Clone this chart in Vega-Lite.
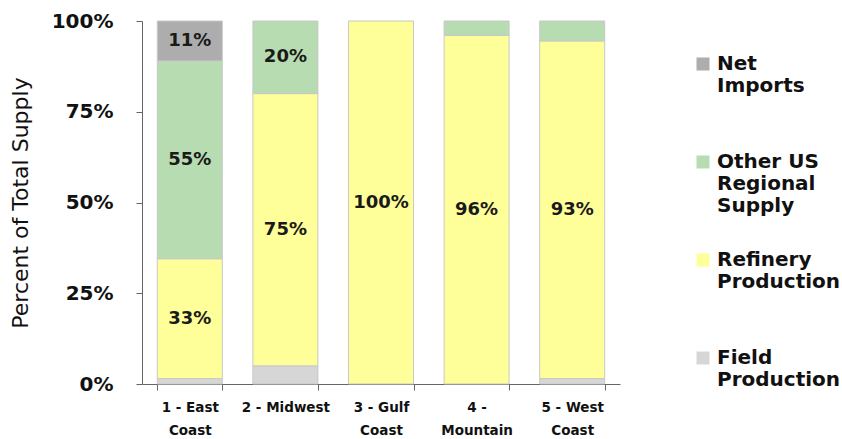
{
  "$schema": "https://vega.github.io/schema/vega-lite/v6.json",
  "width": 478,
  "height": 363,
  "autosize": "none",
  "padding": {"left": 142, "top": 21, "right": 222, "bottom": 55},
  "background": "white",
  "config": {
    "view": {"stroke": null},
    "font": "DejaVu Sans"
  },
  "data": {
    "values": [
      {"region": "1 - East Coast", "source": "Field Production", "ord": 1, "value": 1.5},
      {"region": "1 - East Coast", "source": "Refinery Production", "ord": 2, "value": 33},
      {"region": "1 - East Coast", "source": "Other US Regional Supply", "ord": 3, "value": 54.5},
      {"region": "1 - East Coast", "source": "Net Imports", "ord": 4, "value": 11},
      {"region": "2 - Midwest", "source": "Field Production", "ord": 1, "value": 5},
      {"region": "2 - Midwest", "source": "Refinery Production", "ord": 2, "value": 75},
      {"region": "2 - Midwest", "source": "Other US Regional Supply", "ord": 3, "value": 20},
      {"region": "3 - Gulf Coast", "source": "Refinery Production", "ord": 2, "value": 100},
      {"region": "4 - Mountain", "source": "Refinery Production", "ord": 2, "value": 96},
      {"region": "4 - Mountain", "source": "Other US Regional Supply", "ord": 3, "value": 4},
      {"region": "5 - West Coast", "source": "Field Production", "ord": 1, "value": 1.5},
      {"region": "5 - West Coast", "source": "Refinery Production", "ord": 2, "value": 93},
      {"region": "5 - West Coast", "source": "Other US Regional Supply", "ord": 3, "value": 5.5}
    ]
  },
  "transform": [
    {"stack": "value", "groupby": ["region"], "sort": [{"field": "ord", "order": "ascending"}], "as": ["v0", "v1"]},
    {"calculate": "(datum.v0 + datum.v1) / 2", "as": "mid"},
    {"calculate": "format(datum.value, '.0f') + '%'", "as": "label"}
  ],
  "encoding": {
    "x": {
      "field": "region",
      "type": "nominal",
      "sort": null,
      "scale": {"paddingInner": 0.32, "paddingOuter": 0.16},
      "axis": {
        "title": null,
        "labelAngle": 0,
        "domainColor": "#666666",
        "tickColor": "#666666",
        "tickSize": 6,
        "tickBand": "extent",
        "labelFont": "DejaVu Sans",
        "labelFontWeight": "bold",
        "labelFontSize": 13.5,
        "labelColor": "#111111",
        "labelLineHeight": 23,
        "labelPadding": 10,
        "labelBaseline": "top",
        "labelExpr": "datum.label == '1 - East Coast' ? ['1 - East', 'Coast'] : datum.label == '3 - Gulf Coast' ? ['3 - Gulf', 'Coast'] : datum.label == '4 - Mountain' ? ['4 -', 'Mountain'] : datum.label == '5 - West Coast' ? ['5 - West', 'Coast'] : datum.label"
      }
    }
  },
  "layer": [
    {
      "mark": {"type": "bar", "stroke": "#c8c8c8", "strokeWidth": 1},
      "encoding": {
        "y": {
          "field": "v1",
          "type": "quantitative",
          "scale": {"domain": [0, 100]},
          "axis": {
            "title": "Percent of Total Supply",
            "titleFont": "DejaVu Sans",
            "titleFontSize": 22,
            "titleFontWeight": "normal",
            "titleColor": "#111111",
            "titlePadding": 19,
            "values": [0, 25, 50, 75, 100],
            "labelExpr": "datum.value + '%'",
            "labelFont": "DejaVu Sans",
            "labelFontWeight": "bold",
            "labelFontSize": 20,
            "labelColor": "#111111",
            "labelPadding": 23,
            "tickSize": 6,
            "grid": false,
            "domainColor": "#666666",
            "tickColor": "#666666"
          }
        },
        "y2": {"field": "v0"},
        "color": {
          "field": "source",
          "type": "nominal",
          "scale": {
            "domain": ["Net Imports", "Other US Regional Supply", "Refinery Production", "Field Production"],
            "range": ["#adadad", "#b8dcb2", "#ffff99", "#d6d6d6"]
          },
          "legend": {
            "title": null,
            "orient": "right",
            "offset": 40,
            "padding": 33,
            "symbolType": "square",
            "symbolSize": 169,
            "symbolStrokeWidth": 0,
            "labelFont": "DejaVu Sans",
            "labelFontWeight": "bold",
            "labelFontSize": 20,
            "labelColor": "#111111",
            "labelLimit": 200,
            "labelBaseline": "middle",
            "labelOffset": 4,
            "rowPadding": 34,
            "labelExpr": "datum.label == 'Net Imports' ? ['Net', 'Imports', ''] : datum.label == 'Other US Regional Supply' ? ['Other US', 'Regional', 'Supply'] : datum.label == 'Refinery Production' ? ['Refinery', 'Production', ''] : ['Field', 'Production', '']"
          }
        }
      }
    },
    {
      "transform": [{"filter": "datum.value >= 10"}],
      "mark": {"type": "text", "font": "DejaVu Sans", "fontWeight": "bold", "fontSize": 18, "color": "#1a1a1a"},
      "encoding": {
        "y": {"field": "mid", "type": "quantitative"},
        "text": {"field": "label", "type": "nominal"}
      }
    }
  ]
}
